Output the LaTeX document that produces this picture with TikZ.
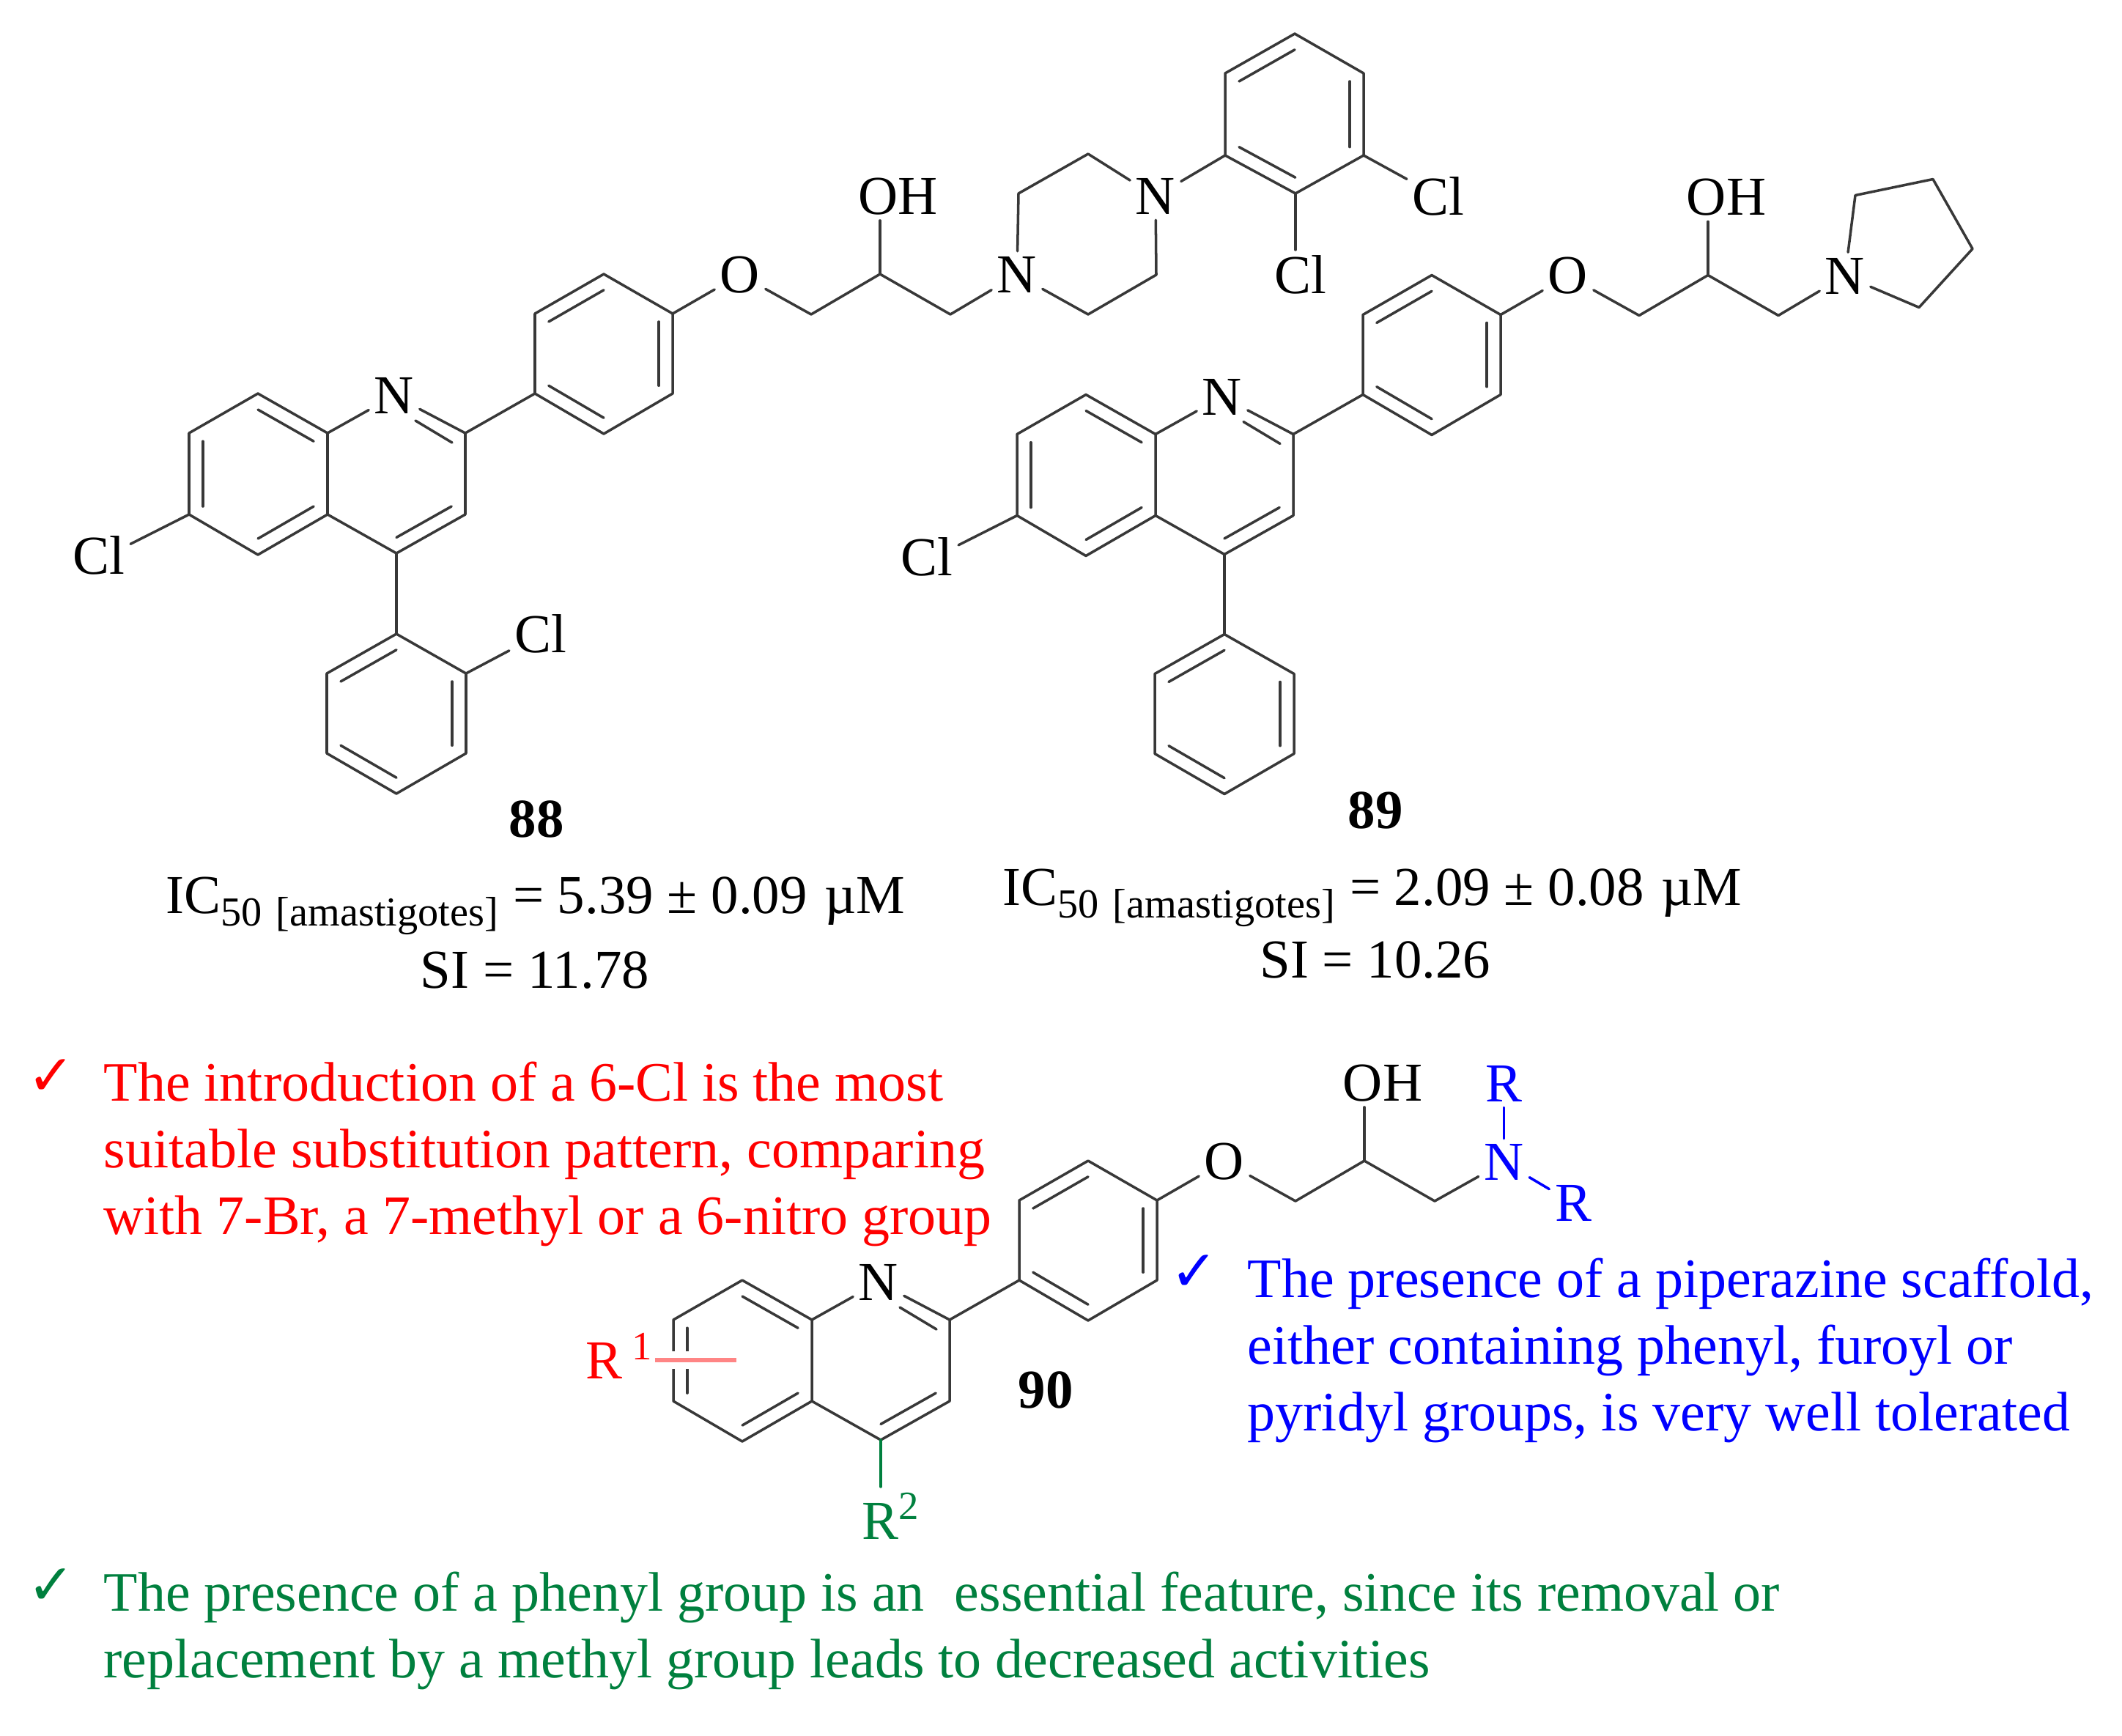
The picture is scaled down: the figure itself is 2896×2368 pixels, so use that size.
\documentclass[tikz,border=0pt]{standalone}
\usepackage{fontspec}
\setmainfont{Liberation Serif}
\newfontfamily\checkfont{DejaVu Sans}
\usetikzlibrary{calc}
\definecolor{sargreen}{HTML}{00803E}
\definecolor{sarpink}{HTML}{FF8585}
\tikzset{
  bond/.style={draw=black!78,line width=1pt,line cap=round,line join=round},
  atom/.style={inner sep=2pt,font=\fontsize{21.3}{25}\selectfont},
  compound/.style={inner sep=0pt,font=\fontsize{21.3}{25}\selectfont\bfseries},
  result/.style={anchor=base,inner sep=0pt,font=\fontsize{21.3}{25}\selectfont},
  ictext/.style={anchor=base west,inner sep=0pt,font=\fontsize{21.3}{25}\selectfont},
  note/.style={anchor=base west,inner sep=0pt,font=\fontsize{21.6}{26}\selectfont},
  tick/.style={inner sep=0pt,font=\checkfont\fontsize{22}{24}\selectfont}
}
% inner line of a double bond, pulled towards the ring centre
\newcommand{\dbond}[3]{\draw [bond] ($(#1)!0.2!(#3)$) -- ($(#2)!0.2!(#3)$);}
\newcommand{\icline}[2]{IC\raisebox{-0.17cm}{\fontsize{16}{18}\selectfont 50\hspace{0.05cm} [amastigotes]}\hspace{0.2cm}= #1 ± #2\hspace{0.05cm} µM}
% quinoline, phenylene and the O-CH2-CHOH-CH2 chain
\newcommand{\coremol}{
\coordinate (q1) at (352,537);
\coordinate (q2) at (258,591);
\coordinate (q3) at (258,702);
\coordinate (q4) at (352,757);
\coordinate (q5) at (447,702);
\coordinate (q6) at (447,591);
\coordinate (q7) at (635,591);
\coordinate (q8) at (635,702);
\coordinate (q9) at (541,755);
\coordinate (qa) at (352.5,647);
\coordinate (qb) at (541,647);
\coordinate (qn1) at (567,574);
\coordinate (qn2) at (617,604);
\node (N) at (538,540) [atom] {N};
\coordinate (p1) at (730,537);
\coordinate (p2) at (730,428);
\coordinate (p3) at (824,374);
\coordinate (p4) at (918,428);
\coordinate (p5) at (918,537);
\coordinate (p6) at (824,592);
\coordinate (pc) at (824,483);
\node (O) at (1010,375) [atom] {O};
\coordinate (c1) at (1107,429);
\coordinate (c2) at (1201,374);
\coordinate (c3) at (1297,429);
\node (OH) at (1226,268) [atom] {OH};
\draw [bond] (q1) -- (q2) -- (q3) -- (q4) -- (q5) -- (q6) -- cycle;
\dbond{q1}{q6}{qa}
\dbond{q2}{q3}{qa}
\dbond{q4}{q5}{qa}
\draw [bond] (q6) -- (N);
\draw [bond] (N) -- (q7);
\draw [bond] (qn1) -- (qn2);
\draw [bond] (q7) -- (q8) -- (q9) -- (q5);
\dbond{q8}{q9}{qb}
\draw [bond] (q7) -- (p1);
\draw [bond] (p1) -- (p2) -- (p3) -- (p4) -- (p5) -- (p6) -- cycle;
\dbond{p2}{p3}{pc}
\dbond{p4}{p5}{pc}
\dbond{p6}{p1}{pc}
\draw [bond] (p4) -- (O);
\draw [bond] (O) -- (c1);
\draw [bond] (c1) -- (c2) -- (c3);
\draw [bond] (c2) -- (c2 |- OH.south);
}
\begin{document}
\begin{tikzpicture}[x=0.01cm,y=-0.01cm]
\useasboundingbox (0,0) rectangle (2896,2368);

% compound 88
\begin{scope}[name prefix=a-]
\coremol
\node (Cl6) at (135,758) [atom] {Cl};
\draw [bond] (q3) -- (Cl6.20);
\coordinate (r1) at (541,865);
\coordinate (r2) at (446,919);
\coordinate (r3) at (446,1028);
\coordinate (r4) at (541,1083);
\coordinate (r5) at (636,1028);
\coordinate (r6) at (636,919);
\coordinate (rc) at (541,974);
\draw [bond] (q9) -- (r1);
\draw [bond] (r1) -- (r2) -- (r3) -- (r4) -- (r5) -- (r6) -- cycle;
\dbond{r1}{r2}{rc}
\dbond{r3}{r4}{rc}
\dbond{r5}{r6}{rc}
\node (Cl2) at (738,865) [atom] {Cl};
\draw [bond] (r6) -- (Cl2);
\node (Na) at (1388,375) [atom] {N};
\node (Nb) at (1577,268) [atom] {N};
\coordinate (z1) at (1390,264);
\coordinate (z2) at (1485,210);
\coordinate (z3) at (1578,375);
\coordinate (z4) at (1485,429);
\draw [bond] (c3) -- (Na);
\draw [bond] (Na) -- (z1) -- (z2) -- (Nb);
\draw [bond] (Nb) -- (z3) -- (z4) -- (Na);
\coordinate (d1) at (1672,212);
\coordinate (d2) at (1672,100);
\coordinate (d3) at (1767,46);
\coordinate (d4) at (1861,100);
\coordinate (d5) at (1861,212);
\coordinate (d6) at (1768,264);
\coordinate (dc) at (1767,155);
\draw [bond] (Nb) -- (d1);
\draw [bond] (d1) -- (d2) -- (d3) -- (d4) -- (d5) -- (d6) -- cycle;
\dbond{d2}{d3}{dc}
\dbond{d4}{d5}{dc}
\dbond{d6}{d1}{dc}
\node (Cl3) at (1963,268) [atom] {Cl};
\node (Cl4) at (1775,375) [atom] {Cl};
\draw [bond] (d5) -- (Cl3);
\draw [bond] (d6) -- (d6 |- Cl4.north);
\end{scope}
\node (no88) at (732,1118) [compound] {88};
\node (ic88) at (226,1246) [ictext] {\icline{5.39}{0.09}};
\node (si88) at (730,1348) [result] {SI = 11.78};

% compound 89
\begin{scope}[shift={(1130,1.5)},name prefix=b-]
\coremol
\node (Cl6) at (135,758) [atom] {Cl};
\draw [bond] (q3) -- (Cl6.20);
\coordinate (r1) at (541,864);
\coordinate (r2) at (446,918);
\coordinate (r3) at (446,1027);
\coordinate (r4) at (541,1082);
\coordinate (r5) at (636,1027);
\coordinate (r6) at (636,918);
\coordinate (rc) at (541,973);
\draw [bond] (q9) -- (r1);
\draw [bond] (r1) -- (r2) -- (r3) -- (r4) -- (r5) -- (r6) -- cycle;
\dbond{r1}{r2}{rc}
\dbond{r3}{r4}{rc}
\dbond{r5}{r6}{rc}
\node (Np) at (1388,375) [atom] {N};
\coordinate (y1) at (1402,265);
\coordinate (y2) at (1508,243);
\coordinate (y3) at (1562,338);
\coordinate (y4) at (1489,418);
\draw [bond] (c3) -- (Np);
\draw [bond] (Np) -- (y1) -- (y2) -- (y3) -- (y4) -- (Np);
\end{scope}
\node (no89) at (1877,1106) [compound] {89};
\node (ic89) at (1368,1235) [ictext] {\icline{2.09}{0.08}};
\node (si89) at (1877,1334) [result] {SI = 10.26};

% general structure 90
\begin{scope}[shift={(661,1210)},name prefix=c-]
\coremol
\end{scope}
\node (Nr) at (2052.5,1586) [atom,blue] {N};
\node (Rt) at (2052.5,1479) [atom,blue] {R};
\node (Rr) at (2147,1642) [atom,blue] {R};
\draw [bond] (c-c3) -- (Nr);
\draw [bond,draw=blue] (Nr) -- (Rt);
\draw [bond,draw=blue] (Nr) -- (Rr);
\coordinate (gapa) at (905,1856);
\coordinate (gapb) at (945,1856);
\coordinate (r1end) at (1005,1856);
\draw [white,line width=0.24cm] (gapa) -- (gapb);
\node (R1) at (795,1881) [atom,anchor=base west,inner sep=1pt,red] {R\hspace{0.13cm}\raisebox{0.26cm}{\fontsize{15.6}{18}\selectfont 1}};
\draw [draw=sarpink,line width=0.06cm] (R1.east |- r1end) -- (r1end);
\node (R2) at (1169,2100) [atom,anchor=base west,sargreen] {R\raisebox{0.27cm}{\fontsize{15.6}{18}\selectfont 2}};
\draw [bond,draw=sargreen] (c-q9) -- (c-q9 |- R2.north);
\node (no90) at (1427,1897) [compound] {90};

% the three notes
\node (tickr) at (70,1470) [tick,red] {✓};
\node (reda) at (141,1502) [note,red] {The introduction of a 6-Cl is the most};
\node (redb) at (141,1593) [note,red] {suitable substitution pattern, comparing};
\node (redc) at (141,1684) [note,red] {with 7-Br, a 7-methyl or a 6-nitro group};
\node (tickb) at (1630,1737) [tick,blue] {✓};
\node (blua) at (1702,1770) [note,blue] {The presence of a piperazine scaffold,};
\node (blub) at (1702,1861) [note,blue] {either containing phenyl, furoyl or};
\node (bluc) at (1702,1952) [note,blue] {pyridyl groups, is very well tolerated};
\node (tickg) at (70,2165) [tick,sargreen] {✓};
\node (grna) at (141,2198) [note,sargreen] {The presence of a phenyl group is an\hspace{0.22cm} essential feature, since its removal or};
\node (grnb) at (141,2289) [note,sargreen] {replacement by a methyl group leads to decreased activities};
\end{tikzpicture}
\end{document}
